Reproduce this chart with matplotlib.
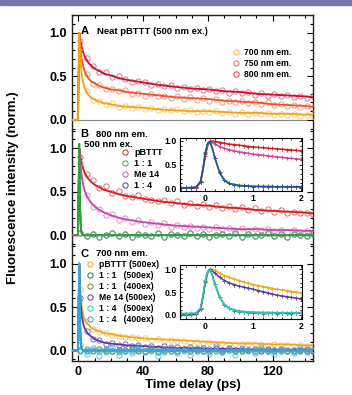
import matplotlib
matplotlib.use("Agg")
import matplotlib.pyplot as plt
from matplotlib.lines import Line2D
from matplotlib.patches import Rectangle
from matplotlib.ticker import MultipleLocator

plt.rcParams['font.family'] = ['Liberation Sans', 'DejaVu Sans']
plt.rcParams['font.weight'] = 'bold'

# ---- main panels: fit knots (ps) and values ----
t_fit = [-4, -0.3, 0.5, 1, 2, 3, 4, 6, 8, 10, 13, 16, 20, 25, 30, 40, 50, 60, 70, 80,
         90, 100, 110, 120, 130, 140, 145]
t_fast = [-4, -0.3, 0.5, 1.0, 1.5, 2.0, 3.0, 145]
t_pts = list(range(1, 146, 4))

# panel A
a800_fit = [0, 0, 1.0, 0.93, 0.84, 0.77, 0.72, 0.66, 0.62, 0.59, 0.56, 0.53, 0.51, 0.48, 0.46,
            0.43, 0.40, 0.38, 0.36, 0.35, 0.33, 0.32, 0.30, 0.29, 0.28, 0.27, 0.26]
a750_fit = [0, 0, 1.0, 0.85, 0.70, 0.61, 0.55, 0.48, 0.44, 0.42, 0.39, 0.37, 0.35, 0.34, 0.32,
            0.30, 0.28, 0.26, 0.25, 0.24, 0.22, 0.21, 0.20, 0.18, 0.17, 0.16, 0.15]
a700_fit = [0, 0, 1.0, 0.75, 0.52, 0.42, 0.36, 0.29, 0.25, 0.23, 0.21, 0.19, 0.18, 0.16, 0.15,
            0.14, 0.12, 0.11, 0.10, 0.10, 0.09, 0.08, 0.08, 0.07, 0.07, 0.06, 0.06]
a800_pts = [0.91, 0.71, 0.62, 0.55, 0.55, 0.49, 0.50, 0.47, 0.43, 0.45, 0.44, 0.40, 0.41, 0.39,
            0.40, 0.37, 0.38, 0.35, 0.37, 0.34, 0.36, 0.33, 0.34, 0.31, 0.33, 0.31, 0.32, 0.29,
            0.31, 0.28, 0.30, 0.27, 0.29, 0.26, 0.28, 0.25, 0.27]
a750_pts = [0.83, 0.53, 0.41, 0.40, 0.35, 0.36, 0.33, 0.34, 0.30, 0.31, 0.28, 0.30, 0.27, 0.28,
            0.25, 0.27, 0.24, 0.26, 0.23, 0.25, 0.22, 0.24, 0.21, 0.22, 0.20, 0.22, 0.19, 0.21,
            0.18, 0.20, 0.17, 0.18, 0.16, 0.17, 0.15, 0.16, 0.14]
a700_pts = [0.74, 0.33, 0.23, 0.22, 0.18, 0.19, 0.15, 0.16, 0.14, 0.15, 0.13, 0.14, 0.11, 0.13,
            0.11, 0.12, 0.10, 0.11, 0.09, 0.10, 0.09, 0.10, 0.08, 0.09, 0.07, 0.09, 0.07, 0.08,
            0.07, 0.08, 0.06, 0.07, 0.06, 0.07, 0.05, 0.06, 0.05]

# panel B
b_pbttt_fit = [0, 0, 1.0, 0.92, 0.83, 0.76, 0.71, 0.65, 0.61, 0.58, 0.55, 0.52, 0.50, 0.47, 0.45,
               0.42, 0.39, 0.37, 0.35, 0.34, 0.32, 0.31, 0.29, 0.28, 0.27, 0.26, 0.25]
b_me14_fit = [0, 0, 1.0, 0.85, 0.68, 0.57, 0.50, 0.42, 0.37, 0.33, 0.29, 0.26, 0.23, 0.20, 0.18,
              0.15, 0.13, 0.11, 0.10, 0.09, 0.08, 0.07, 0.07, 0.06, 0.06, 0.05, 0.05]
b_11_fit = [0, 0, 1.05, 0.35, 0.08, 0.02, 0, 0]
b_14_fit = [0, 0, 1.0, 0.30, 0.07, 0.02, 0, 0]
b_pbttt_pts = [0.90, 0.70, 0.63, 0.54, 0.56, 0.48, 0.51, 0.45, 0.44, 0.46, 0.42, 0.41, 0.39, 0.41,
               0.37, 0.39, 0.35, 0.37, 0.34, 0.36, 0.32, 0.35, 0.31, 0.33, 0.30, 0.32, 0.29, 0.31,
               0.28, 0.30, 0.27, 0.29, 0.26, 0.27, 0.25, 0.26, 0.24]
b_me14_pts = [0.83, 0.46, 0.32, 0.30, 0.23, 0.24, 0.18, 0.20, 0.15, 0.17, 0.13, 0.15, 0.12, 0.14,
              0.10, 0.12, 0.09, 0.11, 0.08, 0.10, 0.07, 0.09, 0.07, 0.08, 0.06, 0.08, 0.05, 0.07,
              0.06, 0.07, 0.05, 0.06, 0.04, 0.06, 0.04, 0.05, 0.04]
b_11_pts = [0.02, -0.01, 0.01, -0.02, 0.00, 0.02, -0.01, 0.01, -0.02, 0.01, 0.00, -0.01, 0.02,
            -0.02, 0.01, 0.00, -0.01, 0.02, -0.01, 0.01, -0.02, 0.00, 0.01, -0.01, 0.02, -0.02,
            0.01, -0.01, 0.00, 0.02, -0.01, 0.01, -0.02, 0.01, 0.00, -0.01, 0.01]

# panel C
c_pbttt_fit = [0, 0, 1.0, 0.72, 0.50, 0.40, 0.35, 0.30, 0.26, 0.24, 0.22, 0.20, 0.19, 0.17, 0.16,
               0.14, 0.13, 0.12, 0.11, 0.10, 0.09, 0.08, 0.08, 0.07, 0.07, 0.06, 0.06]
c_me14_fit = [0, 0, 1.0, 0.62, 0.40, 0.30, 0.25, 0.19, 0.16, 0.13, 0.11, 0.09, 0.08, 0.07, 0.06,
              0.05, 0.04, 0.03, 0.03, 0.02, 0.02, 0.02, 0.01, 0.01, 0.01, 0.01, 0.01]
c_11_500_fit = [0, 0, 1.0, 0.30, 0.07, 0.02, 0, 0]
c_11_400_fit = [0, 0, 0.98, 0.32, 0.08, 0.02, 0, 0]
c_14_500_fit = [0, 0, 1.0, 0.28, 0.06, 0.02, 0, 0]
c_14_400_fit = [0, 0, 0.97, 0.30, 0.07, 0.02, 0, 0]
c_pbttt_pts = [0.71, 0.34, 0.25, 0.21, 0.20, 0.18, 0.17, 0.15, 0.16, 0.14, 0.14, 0.12, 0.13, 0.11,
               0.12, 0.11, 0.11, 0.10, 0.10, 0.09, 0.10, 0.08, 0.09, 0.08, 0.08, 0.07, 0.08, 0.07,
               0.07, 0.06, 0.07, 0.06, 0.06, 0.05, 0.06, 0.05, 0.05]
c_me14_pts = [0.60, 0.23, 0.13, 0.12, 0.08, 0.09, 0.06, 0.07, 0.05, 0.06, 0.04, 0.05, 0.03, 0.05,
              0.03, 0.04, 0.02, 0.04, 0.02, 0.03, 0.02, 0.03, 0.01, 0.03, 0.01, 0.02, 0.01, 0.02,
              0.00, 0.02, 0.01, 0.02, 0.00, 0.01, 0.01, 0.02, 0.00]
c_11_500_pts = [0.01, 0.00, -0.01, 0.02, 0.00, -0.01, 0.01, 0.00, 0.02, -0.01, 0.00, 0.01, -0.02,
                0.01, 0.00, -0.01, 0.02, 0.00, 0.01, -0.01, 0.00, 0.02, -0.01, 0.01, 0.00, -0.01,
                0.01, 0.00, 0.02, -0.01, 0.00, 0.01, -0.01, 0.00, 0.01, -0.01, 0.00]
c_11_400_pts = [0.00, 0.02, 0.01, -0.01, 0.01, 0.00, -0.02, 0.01, 0.00, 0.01, -0.01, 0.02, 0.00,
                -0.01, 0.01, 0.00, 0.02, -0.01, 0.00, 0.01, -0.01, 0.00, 0.01, 0.02, -0.01, 0.00,
                0.01, -0.01, 0.00, 0.01, 0.00, -0.01, 0.01, 0.00, -0.01, 0.01, 0.00]
c_14_500_pts = [-0.01, 0.01, 0.00, 0.02, -0.02, 0.01, 0.00, -0.01, 0.01, 0.02, -0.01, 0.00, 0.01,
                -0.02, 0.00, 0.01, -0.01, 0.02, 0.00, -0.01, 0.01, 0.00, -0.02, 0.01, 0.00, 0.01,
                -0.01, 0.00, 0.02, -0.01, 0.01, 0.00, -0.01, 0.01, 0.00, -0.01, 0.01]
c_14_400_pts = [0.06, -0.04, 0.03, -0.06, 0.02, 0.04, -0.05, 0.01, -0.03, 0.05, -0.02, 0.03, -0.06,
                0.02, 0.04, -0.03, 0.01, -0.05, 0.03, 0.00, -0.04, 0.05, -0.02, 0.02, -0.05, 0.03,
                0.01, -0.03, 0.04, -0.01, -0.04, 0.02, 0.00, -0.03, 0.03, -0.02, 0.01]

# ---- insets (first 2 ps) ----
t_in_fit = [-0.5, -0.2, -0.1, -0.05, 0.0, 0.05, 0.1, 0.15, 0.2, 0.3, 0.4, 0.5, 0.7, 1.0, 1.5, 2.0]
t_in_pts = [-0.5, -0.4, -0.3, -0.2, -0.1, 0.0, 0.1, 0.2, 0.3, 0.4, 0.5, 0.6, 0.7, 0.8, 0.9, 1.0,
            1.1, 1.2, 1.3, 1.4, 1.5, 1.6, 1.7, 1.8, 1.9, 2.0]

ib_pbttt_fit = [0, 0.01, 0.12, 0.38, 0.68, 0.90, 0.99, 1.0, 0.99, 0.97, 0.95, 0.93, 0.91, 0.87, 0.83, 0.79]
ib_me14_fit = [0, 0.01, 0.12, 0.40, 0.72, 0.93, 1.0, 0.97, 0.93, 0.88, 0.84, 0.81, 0.77, 0.72, 0.66, 0.61]
ib_11_fit = [0, 0.02, 0.14, 0.42, 0.76, 0.96, 0.97, 0.82, 0.62, 0.32, 0.16, 0.09, 0.05, 0.035, 0.03, 0.03]
ib_14_fit = [0, 0.02, 0.14, 0.40, 0.74, 0.95, 0.98, 0.84, 0.64, 0.33, 0.17, 0.10, 0.06, 0.04, 0.03, 0.03]
ib_pbttt_pts = [0.0, 0.01, 0.0, 0.01, 0.12, 0.68, 0.99, 0.98, 0.96, 0.95, 0.93, 0.92, 0.91, 0.90,
                0.88, 0.88, 0.86, 0.86, 0.84, 0.84, 0.83, 0.82, 0.81, 0.80, 0.80, 0.79]
ib_me14_pts = [0.0, 0.01, 0.0, 0.01, 0.13, 0.72, 1.0, 0.93, 0.88, 0.84, 0.81, 0.79, 0.77, 0.75,
               0.74, 0.72, 0.71, 0.70, 0.68, 0.68, 0.66, 0.65, 0.64, 0.63, 0.62, 0.61]
ib_11_pts = [0.01, 0.0, 0.02, 0.03, 0.15, 0.77, 0.96, 0.63, 0.33, 0.17, 0.10, 0.07, 0.05, 0.06,
             0.04, 0.03, 0.05, 0.03, 0.04, 0.02, 0.03, 0.04, 0.02, 0.03, 0.03, 0.02]
ib_14_pts = [0.0, 0.02, 0.01, 0.02, 0.14, 0.74, 0.98, 0.64, 0.35, 0.18, 0.11, 0.06, 0.07, 0.04,
             0.05, 0.03, 0.04, 0.05, 0.03, 0.04, 0.02, 0.04, 0.03, 0.05, 0.03, 0.03]

ic_pbttt_fit = [0, 0.01, 0.12, 0.38, 0.70, 0.92, 0.99, 1.0, 0.97, 0.91, 0.86, 0.82, 0.75, 0.66, 0.56, 0.48]
ic_me14_fit = [0, 0.01, 0.12, 0.40, 0.72, 0.94, 1.0, 0.96, 0.91, 0.82, 0.75, 0.70, 0.63, 0.56, 0.43, 0.35]
ic_14_fit = [0.03, 0.04, 0.15, 0.42, 0.76, 0.96, 0.98, 0.85, 0.66, 0.38, 0.22, 0.14, 0.08, 0.06, 0.05, 0.05]
ic_11_fit = [0.02, 0.03, 0.14, 0.40, 0.75, 0.95, 0.99, 0.86, 0.67, 0.38, 0.22, 0.14, 0.08, 0.05, 0.04, 0.04]
ic_pbttt_pts = [0.0, 0.01, 0.0, 0.02, 0.13, 0.70, 0.99, 0.97, 0.91, 0.86, 0.82, 0.78, 0.75, 0.72,
                0.69, 0.66, 0.64, 0.61, 0.59, 0.57, 0.56, 0.54, 0.52, 0.51, 0.49, 0.48]
ic_me14_pts = [0.01, 0.0, 0.02, 0.01, 0.12, 0.72, 1.0, 0.91, 0.82, 0.75, 0.70, 0.66, 0.63, 0.61,
               0.58, 0.56, 0.53, 0.50, 0.48, 0.45, 0.43, 0.41, 0.39, 0.38, 0.36, 0.35]
ic_14_pts = [0.04, 0.02, 0.05, 0.04, 0.16, 0.76, 0.98, 0.67, 0.39, 0.23, 0.14, 0.10, 0.08, 0.07,
             0.05, 0.06, 0.04, 0.07, 0.05, 0.04, 0.06, 0.05, 0.03, 0.07, 0.04, 0.05]
ic_11_pts = [0.03, 0.02, 0.03, 0.04, 0.14, 0.75, 0.99, 0.68, 0.38, 0.22, 0.14, 0.09, 0.07, 0.06,
             0.05, 0.04, 0.05, 0.03, 0.05, 0.04, 0.03, 0.05, 0.04, 0.03, 0.04, 0.04]


def draw(ax, tf, fit, tp, pts, lc, mc, lw=1.3, z=2):
    ax.plot(tp, pts, 'o', ms=3.8, mfc='none', mec=mc, mew=0.6, zorder=z)
    ax.plot(tf, fit, '-', color=lc, lw=lw, zorder=z + 0.5)


def draw_inset(ax, tf, fit, tp, pts, lc, mc):
    ax.plot(tp, pts, '+', ms=2.5, color=mc, mew=0.6)
    ax.plot(tf, fit, '-', color=lc, lw=1.1)


def style_main(ax):
    ax.set_xlim(-4, 145)
    ax.set_ylim(-0.12, 1.205)
    ax.set_yticks([0, 0.5, 1.0])
    ax.set_yticklabels(['0.0', '0.5', '1.0'])
    ax.yaxis.set_minor_locator(MultipleLocator(0.1))
    ax.xaxis.set_major_locator(MultipleLocator(40))
    ax.xaxis.set_minor_locator(MultipleLocator(10))
    ax.tick_params(which='both', direction='in', top=True, right=True, labelsize=9, width=0.8)
    ax.tick_params(which='major', length=4)
    ax.tick_params(which='minor', length=2)
    for s in ax.spines.values():
        s.set_linewidth(1.0)
        s.set_color('#222222')


def style_inset(ax):
    ax.set_xlim(-0.53, 2.02)
    ax.set_xticks([0, 1, 2])
    ax.xaxis.set_minor_locator(MultipleLocator(0.2))
    ax.set_yticks([0, 0.5, 1.0])
    ax.set_yticklabels(['0.0', '0.5', '1.0'])
    ax.yaxis.set_minor_locator(MultipleLocator(0.1))
    ax.tick_params(which='both', direction='in', top=True, right=True, labelsize=6.3, pad=2, width=0.6)
    ax.tick_params(which='major', length=2.5)
    ax.tick_params(which='minor', length=1.2)
    for s in ax.spines.values():
        s.set_linewidth(0.8)


def legend(ax, labels, colors, anchor, fs):
    handles = [Line2D([], [], ls='none', marker='o', ms=3.8, mfc='none', mec=c, mew=0.7)
               for c in colors]
    ax.legend(handles, labels, loc='upper left', bbox_to_anchor=anchor, frameon=False,
              fontsize=fs, handlelength=0.8, handletextpad=0.6, labelspacing=0.22,
              borderpad=0, borderaxespad=0)


fig = plt.figure(figsize=(3.52, 3.95), dpi=100)
fig.patches.append(Rectangle((0, 1 - 5 / 395), 1, 5 / 395, transform=fig.transFigure,
                             color='#7479a6', zorder=0))

left, width = 72 / 352, 241 / 352
top, bottom = 1 - 15 / 395, 1 - 361 / 395
h = (top - bottom) / 3
axA = fig.add_axes([left, bottom + 2 * h, width, h])
axB = fig.add_axes([left, bottom + h, width, h], sharex=axA)
axC = fig.add_axes([left, bottom, width, h], sharex=axA)
for ax in (axA, axB, axC):
    style_main(ax)
axA.spines['bottom'].set_visible(False)
axB.spines['top'].set_visible(False)
axB.spines['bottom'].set_visible(False)
axC.spines['top'].set_visible(False)
axA.tick_params(which='both', bottom=False, labelbottom=False)
axB.tick_params(which='both', top=False, bottom=False, labelbottom=False)
axC.tick_params(which='both', top=False)
axA.axhline(0, color='#888888', lw=0.8, zorder=1)

# panel A
draw(axA, t_fit, a700_fit, t_pts, a700_pts, '#f4a21c', '#f8c35c', z=4)
draw(axA, t_fit, a750_fit, t_pts, a750_pts, '#e9552c', '#f2866c', z=3)
draw(axA, t_fit, a800_fit, t_pts, a800_pts, '#c4122f', '#de5f78', z=2)
axA.text(0.035, 0.86, 'A', transform=axA.transAxes, fontsize=8, va='center')
axA.text(0.105, 0.86, 'Neat pBTTT (500 nm ex.)', transform=axA.transAxes, fontsize=6.8, va='center')
legend(axA, ['700 nm em.', '750 nm em.', '800 nm em.'], ['#f5b540', '#ef6f5c', '#cf3d5e'],
       (0.665, 0.71), 6.2)

# panel B
draw(axB, t_fast, b_14_fit, t_pts, b_11_pts, '#2b4a9b', '#2b4a9b', z=2)
draw(axB, t_fit, b_pbttt_fit, t_pts, b_pbttt_pts, '#d41d1d', '#e65050', z=3)
draw(axB, t_fit, b_me14_fit, t_pts, b_me14_pts, '#c845a8', '#dc7cc5', z=4)
draw(axB, t_fast, b_11_fit, t_pts, b_11_pts, '#30a030', '#5cbf5c', z=5)
axB.text(0.035, 0.965, 'B', transform=axB.transAxes, fontsize=8, va='center')
axB.text(0.10, 0.965, '800 nm em.', transform=axB.transAxes, fontsize=6.8, va='center')
axB.text(0.05, 0.875, '500 nm ex.', transform=axB.transAxes, fontsize=6.8, va='center')
legend(axB, ['pBTTT', '1 : 1', 'Me 14', '1 : 4'], ['#d42a2a', '#3aa83a', '#cc55b0', '#2b4a9b'],
       (0.205, 0.845), 6.5)

# panel C
draw(axC, t_fit, c_pbttt_fit, t_pts, c_pbttt_pts, '#f4a623', '#f6bd55', z=3)
draw(axC, t_fit, c_me14_fit, t_pts, c_me14_pts, '#5a3c9c', '#6f55ad', z=4)
draw(axC, t_fast, c_11_500_fit, t_pts, c_11_500_pts, '#1e7a4c', '#1e7a4c', z=2)
draw(axC, t_fast, c_11_400_fit, t_pts, c_11_400_pts, '#7d8c1c', '#8a9a25', z=2)
draw(axC, t_fast, c_14_500_fit, t_pts, c_14_500_pts, '#30c2c2', '#40cccc', z=5)
draw(axC, t_fast, c_14_400_fit, t_pts, c_14_400_pts, '#3a9fe0', '#4aaae6', z=6)
axC.text(0.035, 0.93, 'C', transform=axC.transAxes, fontsize=8, va='center')
axC.text(0.10, 0.93, '700 nm em.', transform=axC.transAxes, fontsize=6.8, va='center')
legend(axC, ['pBTTT (500ex)', '1 : 1   (500ex)', '1 : 1   (400ex)', 'Me 14 (500ex)',
             '1 : 4   (500ex)', '1 : 4   (400ex)'],
       ['#f4a623', '#1e7a4c', '#7d8c1c', '#5a3c9c', '#30c2c2', '#3a9fe0'], (0.06, 0.875), 6.2)

# insets
insB = fig.add_axes([180 / 352, 1 - 191 / 395, 122 / 352, 53 / 395])
style_inset(insB)
insB.set_ylim(-0.06, 1.06)
draw_inset(insB, t_in_fit, ib_pbttt_fit, t_in_pts, ib_pbttt_pts, '#d41d1d', '#d41d1d')
draw_inset(insB, t_in_fit, ib_me14_fit, t_in_pts, ib_me14_pts, '#c845a8', '#c845a8')
draw_inset(insB, t_in_fit, ib_11_fit, t_in_pts, ib_11_pts, '#30a030', '#30a030')
draw_inset(insB, t_in_fit, ib_14_fit, t_in_pts, ib_14_pts, '#2b4a9b', '#2b4a9b')

insC = fig.add_axes([180 / 352, 1 - 319 / 395, 122 / 352, 54 / 395])
style_inset(insC)
insC.set_ylim(-0.09, 1.09)
draw_inset(insC, t_in_fit, ic_pbttt_fit, t_in_pts, ic_pbttt_pts, '#f4a623', '#f4a623')
draw_inset(insC, t_in_fit, ic_me14_fit, t_in_pts, ic_me14_pts, '#5a3c9c', '#5a3c9c')
draw_inset(insC, t_in_fit, ic_11_fit, t_in_pts, ic_11_pts, '#1e7a4c', '#1e7a4c')
draw_inset(insC, t_in_fit, ic_14_fit, t_in_pts, ic_14_pts, '#30c2c2', '#30c2c2')

fig.text(13 / 352, 1 - 188 / 395, 'Fluorescence intensity (norm.)', rotation=90,
         ha='center', va='center', fontsize=9.5)
fig.text(left + width / 2, 1 - 385 / 395, 'Time delay (ps)', ha='center', va='center', fontsize=9.5)

fig.savefig('out.png', dpi=100)
